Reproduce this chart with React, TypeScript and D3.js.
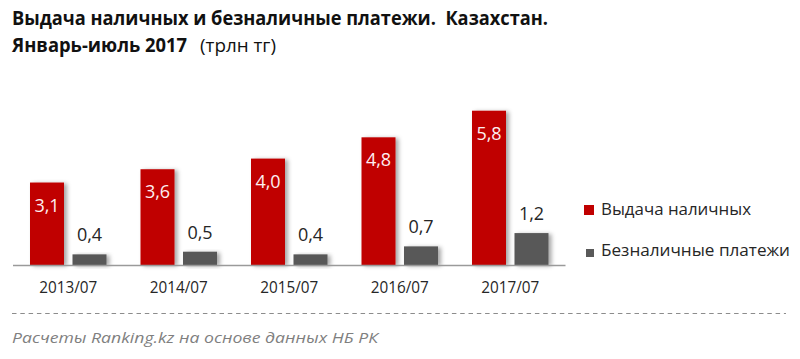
import React from "react";
import * as d3 from "d3";

const categories = ["2013/07", "2014/07", "2015/07", "2016/07", "2017/07"];
const seriesNames = ["Выдача наличных", "Безналичные платежи"];
const cashValues = [3.1, 3.6, 4.0, 4.8, 5.8];
const cashlessValues = [0.4, 0.5, 0.4, 0.7, 1.2];
const seriesColors = ["#C00000", "#595959"];
const titleLine1 = "Выдача наличных и безналичные платежи.  Казахстан.";
const titleLine2Bold = "Январь-июль 2017";
const titleLine2Reg = "(трлн тг)";
const footerText = "Расчеты Ranking.kz на основе данных НБ РК";

const W = 800;
const H = 359;
const FONT = "'Open Sans', 'Noto Sans', 'DejaVu Sans', sans-serif";

const fmt = (v: number) => v.toFixed(1).replace(".", ",");

export default function App() {
  const baseY = 265;
  const x0 = d3.scaleBand<string>().domain(categories).range([13, 565.5]).paddingInner(0).paddingOuter(0);
  const x1 = d3
    .scaleBand<string>()
    .domain(seriesNames)
    .range([0, x0.bandwidth()])
    .paddingInner(0.2)
    .paddingOuter(0.4);
  const y = d3.scaleLinear().domain([0, 6]).range([baseY, baseY - 6 * 26.6]);

  const series = [cashValues, cashlessValues];

  return (
    <svg
      width={W}
      height={H}
      viewBox={`0 0 ${W} ${H}`}
      style={{ position: "absolute", left: 0, top: 0, display: "block", background: "#fff" }}
    >
      <defs>
        <filter id="sh" x="-20%" y="-20%" width="150%" height="150%">
          <feDropShadow dx="3" dy="1" stdDeviation="2" floodColor="#000" floodOpacity="0.35" />
        </filter>
      </defs>
      <rect x={0} y={0} width={W} height={H} fill="#fff" />

      {/* Title */}
      <text x={12} y={25} fontFamily={FONT} fontWeight="bold" fontSize={19} fill="#111"
        textLength={536} lengthAdjust="spacingAndGlyphs" style={{ whiteSpace: "pre" }}>
        {titleLine1}
      </text>
      <text x={12} y={51.5} fontFamily={FONT} fontWeight="bold" fontSize={19} fill="#111"
        textLength={175} lengthAdjust="spacingAndGlyphs">
        {titleLine2Bold}
      </text>
      <text x={200} y={51.5} fontFamily={FONT} fontSize={19} fill="#111"
        textLength={76} lengthAdjust="spacingAndGlyphs">
        {titleLine2Reg}
      </text>

      {/* Bars */}
      {categories.map((c, i) => (
        <g key={c} transform={`translate(${x0(c)},0)`}>
          {seriesNames.map((s, j) => {
            const v = series[j][i];
            const bx = x1(s)!;
            const bw = x1.bandwidth();
            return (
              <g key={s}>
                <rect x={bx} y={y(v)} width={bw} height={baseY - y(v)} fill={seriesColors[j]} filter="url(#sh)" />
                <text
                  x={bx + bw / 2}
                  y={j === 0 ? y(v) + 29 : y(v) - 13}
                  textAnchor="middle"
                  fontFamily={FONT}
                  fontSize={18}
                  fill={j === 0 ? "#fdeef0" : "#262626"}
                >
                  {fmt(v)}
                </text>
              </g>
            );
          })}
          <text
            x={x0.bandwidth() / 2}
            y={293}
            textAnchor="middle"
            fontFamily={FONT}
            fontSize={17}
            fill="#262626"
            textLength={58}
            lengthAdjust="spacingAndGlyphs"
          >
            {c}
          </text>
        </g>
      ))}

      {/* Axis line */}
      <line x1={13} x2={565.5} y1={baseY + 0.5} y2={baseY + 0.5} stroke="#9a9a9a" strokeWidth={1.5} />

      {/* Legend */}
      <rect x={584} y={205} width={10} height={10} fill={seriesColors[0]} />
      <text x={601} y={215} fontFamily={FONT} fontSize={16} fill="#262626" textLength={150} lengthAdjust="spacingAndGlyphs">
        {seriesNames[0]}
      </text>
      <rect x={586} y={249} width={8} height={8} fill={seriesColors[1]} />
      <text x={601} y={256} fontFamily={FONT} fontSize={16} fill="#262626" textLength={189} lengthAdjust="spacingAndGlyphs">
        {seriesNames[1]}
      </text>

      {/* Footer */}
      <line x1={12} x2={786} y1={313.5} y2={313.5} stroke="#8c8c8c" strokeWidth={1} strokeDasharray="4.5 3.8" />
      <text x={12} y={343} fontFamily={FONT} fontStyle="italic" fontSize={15} fill="#7f7f7f"
        textLength={366} lengthAdjust="spacingAndGlyphs">
        {footerText}
      </text>
    </svg>
  );
}
